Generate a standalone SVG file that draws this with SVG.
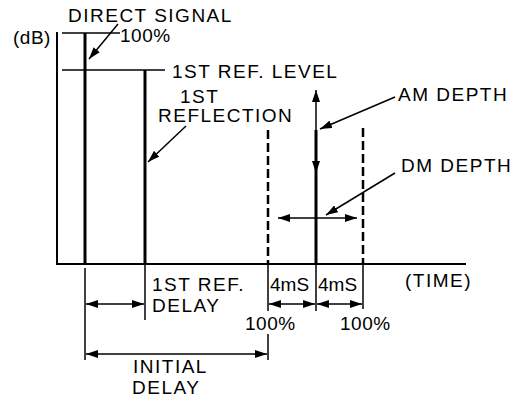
<svg xmlns="http://www.w3.org/2000/svg" width="519" height="398" viewBox="0 0 519 398">
<defs>
<marker id="ah" viewBox="0 0 12 8" refX="12" refY="4" markerWidth="12" markerHeight="8" markerUnits="userSpaceOnUse" orient="auto-start-reverse"><path d="M0,0 L12,4 L0,8 z" fill="#000"/></marker>
<style>
text{font-family:"Liberation Sans",Arial,sans-serif;font-size:19px;letter-spacing:1.5px;fill:#000}
.ax{stroke:#000;stroke-width:2;fill:none}
.sig{stroke:#000;stroke-width:3;fill:none}
.thin{stroke:#000;stroke-width:1.5;fill:none}
.dash{stroke:#000;stroke-width:2.5;stroke-dasharray:9 4;fill:none}
.arr{stroke:#000;stroke-width:1.5;fill:none;marker-end:url(#ah)}
.darr{stroke:#000;stroke-width:1.5;fill:none;marker-start:url(#ah);marker-end:url(#ah)}
</style>
</defs>
<g id="axes">
<line class="ax" x1="57" y1="32" x2="57" y2="264"/>
<line class="ax" x1="56" y1="264" x2="466" y2="264"/>
<text x="13" y="44" style="letter-spacing:0.5px">(dB)</text>
<text x="405" y="287">(TIME)</text>
</g>
<g id="direct-signal">
<line class="sig" x1="85" y1="33" x2="85" y2="264"/>
<line class="thin" x1="62" y1="33" x2="120" y2="33"/>
<text x="68" y="22">DIRECT SIGNAL</text>
<text x="120" y="42" style="letter-spacing:0.5px">100%</text>
<line class="arr" x1="118" y1="24" x2="89" y2="59"/>
</g>
<g id="ref-level">
<line class="thin" x1="62" y1="70" x2="165" y2="70"/>
<text x="172" y="78">1ST REF. LEVEL</text>
</g>
<g id="first-reflection">
<line class="sig" x1="145" y1="70" x2="145" y2="264"/>
<text x="180" y="103">1ST</text>
<text x="158" y="122">REFLECTION</text>
<line class="arr" x1="186" y1="126" x2="148" y2="162"/>
</g>
<g id="modulation">
<line class="dash" x1="268" y1="130" x2="268" y2="264"/>
<line class="dash" x1="363" y1="128" x2="363" y2="264"/>
<line class="sig" x1="316" y1="130" x2="316" y2="264"/>
<line class="darr" x1="316" y1="90" x2="316" y2="173"/>
<line class="darr" x1="278" y1="218" x2="357" y2="218"/>
<text x="398" y="101">AM DEPTH</text>
<line class="arr" x1="395" y1="97" x2="320" y2="129"/>
<text x="401" y="172">DM DEPTH</text>
<line class="arr" x1="395" y1="173" x2="326" y2="215"/>
</g>
<g id="connectors">
<line class="thin" x1="85" y1="268" x2="85" y2="360"/>
<line class="thin" x1="145" y1="264" x2="145" y2="320"/>
<line class="thin" x1="268" y1="264" x2="268" y2="311"/>
<line class="thin" x1="268" y1="334" x2="268" y2="360"/>
<line class="thin" x1="316" y1="264" x2="316" y2="311"/>
<line class="thin" x1="363" y1="264" x2="363" y2="309"/>
<line class="darr" x1="86" y1="304" x2="144" y2="304"/>
<line class="darr" x1="269" y1="304" x2="315" y2="304"/>
<line class="darr" x1="317" y1="304" x2="362" y2="304"/>
<line class="darr" x1="86" y1="354" x2="267" y2="354"/>
</g>
<g id="labels">
<text x="152" y="291">1ST REF.</text>
<text x="152" y="312">DELAY</text>
<text x="270" y="291" style="letter-spacing:0px">4mS</text>
<text x="318" y="291" style="letter-spacing:0px">4mS</text>
<text x="245" y="330" style="letter-spacing:0.5px">100%</text>
<text x="340" y="330" style="letter-spacing:0.5px">100%</text>
<text x="133" y="373">INITIAL</text>
<text x="132" y="394">DELAY</text>
</g>
</svg>
